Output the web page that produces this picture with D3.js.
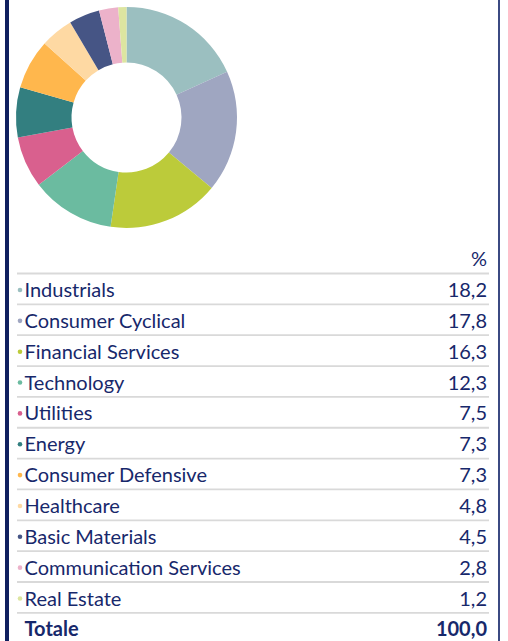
<!DOCTYPE html>
<html><head><meta charset="utf-8">
<script src="https://cdn.jsdelivr.net/npm/d3@7"></script>
<style>html,body{margin:0;padding:0;background:#fff;overflow:hidden}</style>
</head><body>
<svg id="c" width="508" height="641"></svg>
<script>
const categories = ["Industrials","Consumer Cyclical","Financial Services","Technology","Utilities","Energy","Consumer Defensive","Healthcare","Basic Materials","Communication Services","Real Estate"];
const values = [18.2,17.8,16.3,12.3,7.5,7.3,7.3,4.8,4.5,2.8,1.2];
const colors = ["#9bbfc0","#9fa6c1","#bccb3a","#6bbba0","#d9608e","#337f80","#ffb74d","#fed9a3","#465585","#ecb2ca","#dde5a0"];
const totalLabel = "Totale";
const totalValue = "100,0";
const headerLabel = "%";

const fmt = v => d3.format(".1f")(v).replace(".", ",");
const svg = d3.select("#c");
const font = "Lato, 'Open Sans', sans-serif";
const fs = 20;
const textColor = "#17286b";

// borders
svg.append("rect").attr("x",5).attr("y",0).attr("width",4).attr("height",641).attr("fill","#0f1f5f");
svg.append("rect").attr("x",498).attr("y",0).attr("width",2).attr("height",641).attr("fill","#3b4a82");

// donut
const pie = d3.pie().sort(null).value(d => d);
const arc = d3.arc().innerRadius(55).outerRadius(110.5);
const g = svg.append("g").attr("transform","translate(126.5,117.5)");
g.selectAll("path").data(pie(values)).join("path")
  .attr("d", arc).attr("fill", (d,i) => colors[i]);

// table
const x0 = 17, x1 = 489, tableTop = 273.5, rowH = 30.85;
const y = d3.scaleLinear().domain([0,1]).range([tableTop, tableTop+rowH]);

svg.append("text").attr("x",487).attr("y",266).attr("text-anchor","end")
  .attr("font-family",font).attr("font-size",fs).attr("fill",textColor).text(headerLabel);

for (let k=0;k<=categories.length;k++){
  svg.append("line").attr("x1",x0).attr("x2",x1).attr("y1",y(k)).attr("y2",y(k))
    .attr("stroke","#d9d9d9").attr("stroke-width",1.8);
}
const rows = svg.selectAll("g.row").data(categories).join("g").attr("class","row")
  .attr("transform",(d,i)=>`translate(0,${y(i)})`);
rows.append("circle").attr("cx",20).attr("cy",16.5).attr("r",2.3).attr("fill",(d,i)=>colors[i]);
rows.append("text").attr("x",24.5).attr("y",23.5).attr("font-family",font).attr("font-size",fs)
  .attr("fill",textColor).text(d=>d);
rows.append("text").attr("x",487).attr("y",23.5).attr("text-anchor","end").attr("font-family",font)
  .attr("font-size",fs).attr("fill",textColor).text((d,i)=>fmt(values[i]));

const ty = y(categories.length);
svg.append("text").attr("x",24.5).attr("y",ty+23.5).attr("font-family",font).attr("font-size",fs)
  .attr("font-weight","bold").attr("fill",textColor).text(totalLabel);
svg.append("text").attr("x",487).attr("y",ty+23.5).attr("text-anchor","end").attr("font-family",font)
  .attr("font-size",fs).attr("font-weight","bold").attr("fill",textColor).text(totalValue);
</script>
</body></html>
